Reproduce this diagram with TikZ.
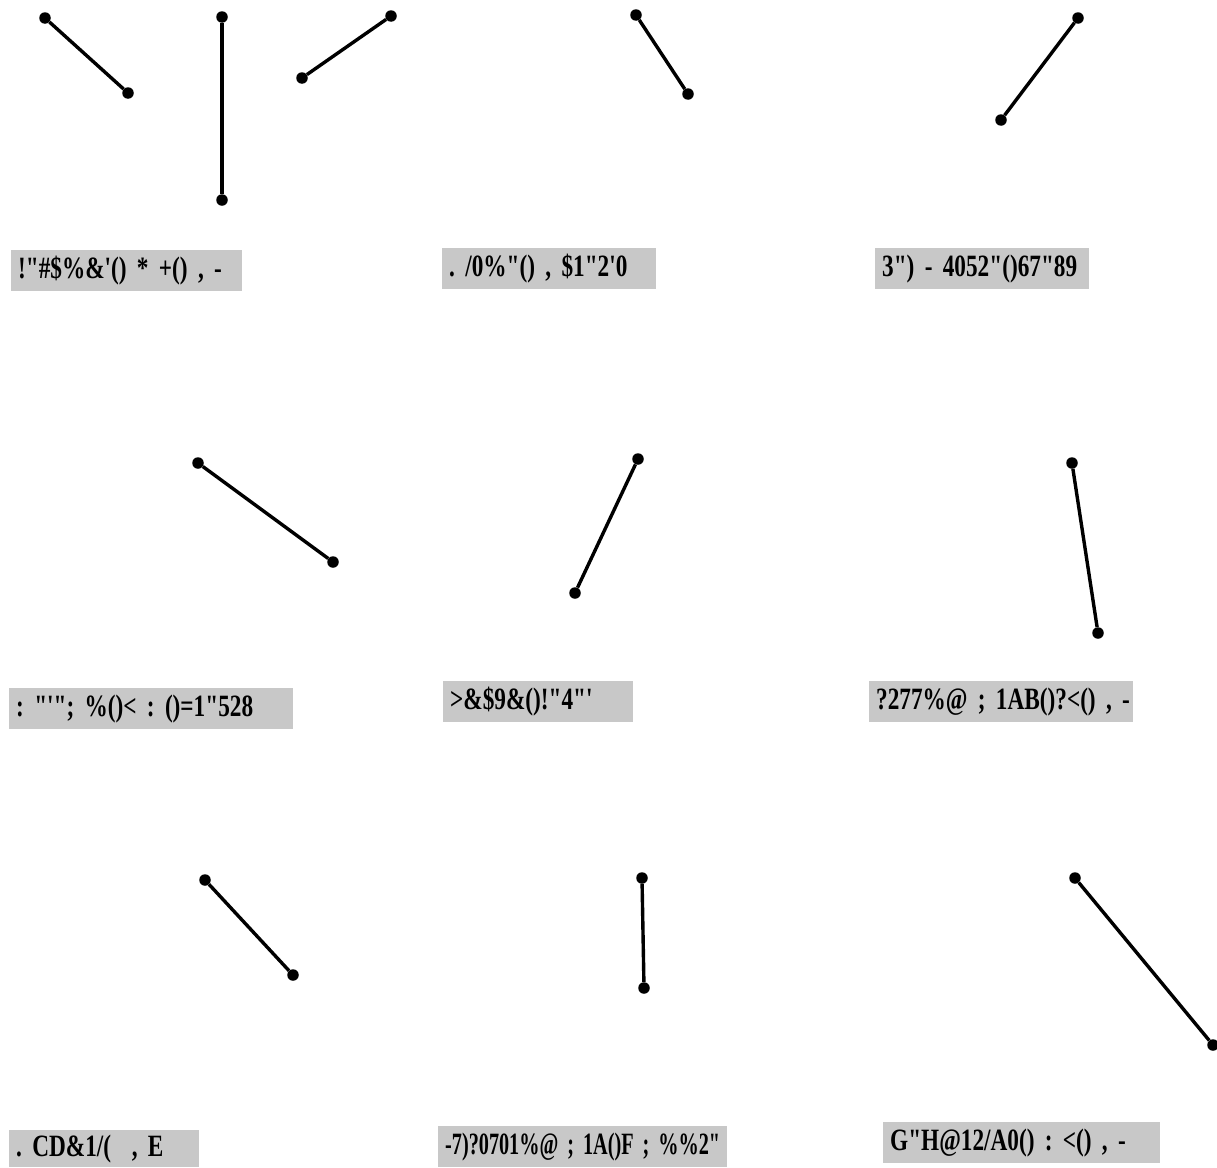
\documentclass[tikz,border=0pt]{standalone}
\usepackage{fontspec}
\usepackage{graphicx}
\newfontfamily\labfont{Liberation Serif}[FakeStretch=0.75,WordSpace=0.7]
\newcommand{\dq}{\symbol{34}}
\newcommand{\sq}{\symbol{39}}
\begin{document}
\frenchspacing
\begin{tikzpicture}[x=1pt,y=-1pt,
  dot/.style={circle,fill=black,inner sep=0pt,minimum size=11.5pt},
  seg/.style={line width=3.4pt},
  lbl/.style={fill=labelgray,anchor=north west,inner xsep=7pt,inner ysep=0pt,
    align=left,font=\labfont\bfseries\fontsize{31}{34}\selectfont\frenchspacing,text height=21pt,text depth=6pt}]
\definecolor{labelgray}{RGB}{200,200,200}
\useasboundingbox (0,0) rectangle (1217,1167);
% panel 1
\node[dot] (p1a) at (45,18) {};
\node[dot] (p1b) at (128,93) {};
\node[dot] (p1c) at (222,17) {};
\node[dot] (p1d) at (222,200) {};
\node[dot] (p1e) at (302,78) {};
\node[dot] (p1f) at (391,16) {};
\draw[seg] (p1a) -- (p1b);
\draw[seg] (p1c) -- (p1d);
\draw[seg] (p1e) -- (p1f);
% panel 2
\node[dot] (p2a) at (636,15) {};
\node[dot] (p2b) at (688,94) {};
\draw[seg] (p2a) -- (p2b);
% panel 3
\node[dot] (p3a) at (1078,18) {};
\node[dot] (p3b) at (1001,120) {};
\draw[seg] (p3a) -- (p3b);
% panel 4
\node[dot] (p4a) at (198,463) {};
\node[dot] (p4b) at (333,562) {};
\draw[seg] (p4a) -- (p4b);
% panel 5
\node[dot] (p5a) at (638,459) {};
\node[dot] (p5b) at (575,593) {};
\draw[seg] (p5a) -- (p5b);
% panel 6
\node[dot] (p6a) at (1072,463) {};
\node[dot] (p6b) at (1098,633) {};
\draw[seg] (p6a) -- (p6b);
% panel 7
\node[dot] (p7a) at (205,880) {};
\node[dot] (p7b) at (293,975) {};
\draw[seg] (p7a) -- (p7b);
% panel 8
\node[dot] (p8a) at (642,878) {};
\node[dot] (p8b) at (644,988) {};
\draw[seg] (p8a) -- (p8b);
% panel 9
\node[dot] (p9a) at (1075,878) {};
\node[dot] (p9b) at (1213,1045) {};
\draw[seg] (p9a) -- (p9b);
% labels
\node[lbl,minimum height=41pt,text width=217pt] (l1) at (11,250) {\mbox{!\dq\#\$\%\&\sq() * +() , -}};
\node[lbl,minimum height=41pt,text width=200pt] (l2) at (442,248) {\mbox{. /0\%\dq() , \$1\dq2\sq0}};
\node[lbl,minimum height=41pt,text width=200pt] (l3) at (875,248) {\mbox{3\dq) - 4052\dq()67\dq89}};
\node[lbl,minimum height=41pt,text width=270pt] (l4) at (9,688) {\mbox{: \dq\sq\dq; \%()< : ()=1\dq528}};
\node[lbl,minimum height=41pt,text width=176pt] (l5) at (443,681) {\mbox{>\&\$9\&()!\dq4\dq\sq}};
\node[lbl,minimum height=41pt,text width=250pt] (l6) at (869,681) {\mbox{?277\%@ ; 1AB()?<() , -}};
\node[lbl,minimum height=37pt,text width=176pt] (l7) at (9,1130) {\mbox{. CD\&1/( \ , E}};
\node[lbl,minimum height=41pt,text width=275pt] (l8) at (438,1126) {\scalebox{0.87}[1]{-7)?0701\%@ ; 1A()F ; \%\%2\dq}};
\node[lbl,minimum height=41pt,text width=263pt] (l9) at (883,1122) {\mbox{G\dq H@12/A0() : <() , -}};
\end{tikzpicture}
\end{document}
